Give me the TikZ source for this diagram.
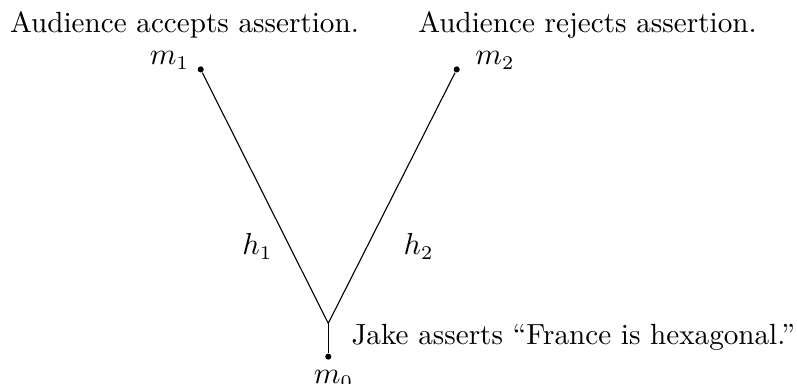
\documentclass[tikz,border=0pt]{standalone}
\usepackage{tikz}
\usetikzlibrary{positioning,calc}
\tikzset{
  worlddot/.style={circle,fill=black,inner sep=0pt,minimum size=2.2pt},
  worldlbl/.style={inner sep=0pt,font=\fontsize{10.5pt}{12.6pt}\selectfont},
  branch/.style={draw=black,line width=0.4pt},
}

\begin{document}
\begin{tikzpicture}
  \useasboundingbox (0,0) rectangle (10.09,4.861);
  % worlds
  \node[worlddot] (m1) at (2.541,3.982) {};
  \node[worlddot] (m2) at (5.782,3.982) {};
  \node[worlddot] (m0) at (4.156,0.346) {};
  \coordinate (jn) at (4.156,0.768);
  % world names
  \node[worldlbl,anchor=base east] (m1lbl) at ($(m1)+(-0.14,0.063)$) {$m_1$};
  \node[worldlbl,anchor=base west] (m2lbl) at ($(m2)+(0.23,0.057)$) {$m_2$};
  \node[worldlbl,anchor=base west] (m0lbl) at ($(m0)+(-0.19,-0.345)$) {$m_0$};
  % descriptions
  \node[worldlbl,anchor=base] (acc) at (2.336,4.444) {Audience accepts assertion.};
  \node[worldlbl,anchor=base] (rej) at (7.438,4.444) {Audience rejects assertion.};
  \node[worldlbl,anchor=base west] (jake) at ($(m0)+(0.287,0.152)$) {Jake asserts “France is hexagonal.”};
  % histories
  \node[worldlbl,anchor=base east] (h1) at (3.456,1.633) {$h_1$};
  \node[worldlbl,anchor=base west] (h2) at (5.102,1.633) {$h_2$};
  \draw[branch] (m1) -- (jn) -- (m2);
  \draw[branch] (jn) -- (m0);
\end{tikzpicture}
\end{document}
